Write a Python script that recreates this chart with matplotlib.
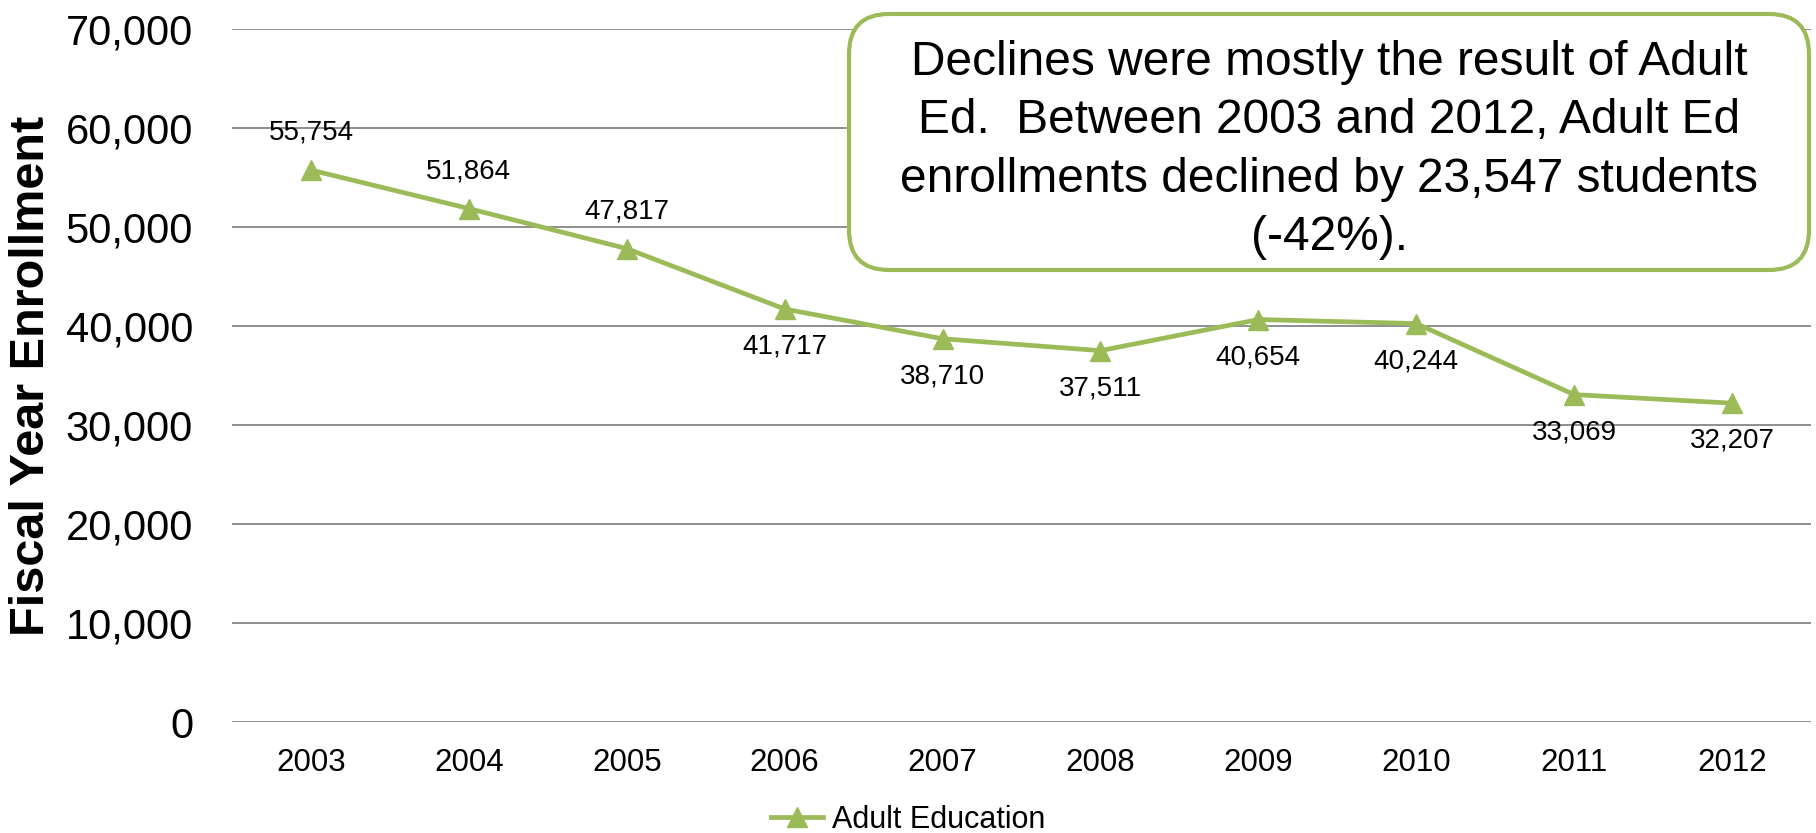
import matplotlib.pyplot as plt
from matplotlib.patches import FancyBboxPatch
from matplotlib.ticker import FuncFormatter

plt.rcParams['font.family'] = ['Liberation Sans', 'DejaVu Sans']

# Adult Education enrollment by fiscal year
years = ['2003', '2004', '2005', '2006', '2007', '2008', '2009', '2010', '2011', '2012']
enrollment = [55754, 51864, 47817, 41717, 38710, 37511, 40654, 40244, 33069, 32207]
label_above = [True, True, True, False, False, False, False, False, False, False]

green = '#9BBB59'
note = ("Declines were mostly the result of Adult\n"
        "Ed.  Between 2003 and 2012, Adult Ed\n"
        "enrollments declined by 23,547 students\n"
        "(-42%).")

fig = plt.figure(figsize=(18.16, 8.33), dpi=100)
ax = fig.add_axes([232/1816, 1 - 722/833, 1579/1816, 693/833])

x = range(len(years))
ax.plot(x, enrollment, color=green, linewidth=3.4, marker='^', markersize=15,
        label='Adult Education', zorder=3)

# value labels above or below each point
for i, v in enumerate(enrollment):
    dy = 27 if label_above[i] else -27
    ax.annotate(f'{v:,}', (i, v), xytext=(0, dy), textcoords='offset points',
                ha='center', va='center', fontsize=20, color='black')

ax.set_xlim(-0.5, len(years) - 0.5)
ax.set_ylim(0, 70000)
ax.set_yticks(range(0, 70001, 10000))
ax.yaxis.set_major_formatter(FuncFormatter(lambda v, p: f'{int(v):,}'))
ax.set_xticks(list(x))
ax.set_xticklabels(years)
ax.tick_params(axis='y', length=0, pad=28, labelsize=30)
ax.tick_params(axis='x', length=0, pad=19, labelsize=22.5)
ax.grid(axis='y', color='#868686', linewidth=1.3)
ax.set_axisbelow(True)
for s in ax.spines.values():
    s.set_visible(False)

fig.text(32/1816, 1 - 376/833, 'Fiscal Year Enrollment', rotation=90,
         ha='center', va='center', fontsize=35, fontweight='bold')

fig.legend(loc='center', bbox_to_anchor=(0.5, 1 - 820/833), frameon=False,
           fontsize=22, handlelength=1.7, handletextpad=0.3)

# rounded callout box in the upper right
box = FancyBboxPatch((8.49, 5.63), 9.6, 2.56, boxstyle='round,pad=0,rounding_size=0.4',
                     transform=fig.dpi_scale_trans, facecolor='white',
                     edgecolor=green, linewidth=3, zorder=5)
fig.add_artist(box)
fig.text(1329/1816, 1 - 150/833, note, ha='center', va='center', fontsize=34.5,
         linespacing=1.38, zorder=6)

fig.savefig('out.png', dpi=100)
